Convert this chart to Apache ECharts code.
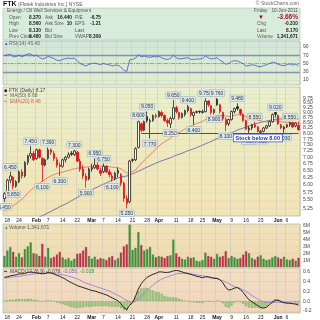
<!DOCTYPE html>
<html><head><meta charset="utf-8">
<script src="https://cdn.jsdelivr.net/npm/echarts@6/dist/echarts.min.js"></script>
<style>html,body{margin:0;padding:0;background:#fff}#c{width:320px;height:320px}</style>
</head><body><div id="c"></div>
<script>
const dates = ['2011-01-14','2011-01-18','2011-01-19','2011-01-20','2011-01-21','2011-01-24','2011-01-25','2011-01-26','2011-01-27','2011-01-28','2011-01-31',
'2011-02-01','2011-02-02','2011-02-03','2011-02-04','2011-02-07','2011-02-08','2011-02-09','2011-02-10','2011-02-11','2011-02-14','2011-02-15','2011-02-16','2011-02-17','2011-02-18','2011-02-22','2011-02-23','2011-02-24','2011-02-25','2011-02-28',
'2011-03-01','2011-03-02','2011-03-03','2011-03-04','2011-03-07','2011-03-08','2011-03-09','2011-03-10','2011-03-11','2011-03-14','2011-03-15','2011-03-16','2011-03-17','2011-03-18','2011-03-21','2011-03-22','2011-03-23','2011-03-24','2011-03-25','2011-03-28','2011-03-29','2011-03-30','2011-03-31',
'2011-04-01','2011-04-04','2011-04-05','2011-04-06','2011-04-07','2011-04-08','2011-04-11','2011-04-12','2011-04-13','2011-04-14','2011-04-15','2011-04-18','2011-04-19','2011-04-20','2011-04-21','2011-04-25','2011-04-26','2011-04-27','2011-04-28','2011-04-29',
'2011-05-02','2011-05-03','2011-05-04','2011-05-05','2011-05-06','2011-05-09','2011-05-10','2011-05-11','2011-05-12','2011-05-13','2011-05-16','2011-05-17','2011-05-18','2011-05-19','2011-05-20','2011-05-23','2011-05-24','2011-05-25','2011-05-26','2011-05-27','2011-05-31',
'2011-06-01','2011-06-02','2011-06-03','2011-06-06','2011-06-07','2011-06-08','2011-06-09','2011-06-10'];
const opens = [5.55,5.75,6.15,6.25,5.95,6.10,6.45,6.30,6.80,7.05,7.15,6.95,7.30,6.95,6.70,6.95,7.30,7.15,6.90,6.70,6.65,6.90,7.00,7.16,7.10,7.20,6.85,6.55,6.30,6.20,
6.55,6.60,6.70,6.50,6.45,6.65,6.45,6.30,6.20,6.40,6.35,6.05,5.55,5.45,6.90,6.90,7.40,8.45,8.15,8.80,8.55,8.60,8.85,8.80,9.00,8.85,8.60,8.45,8.70,9.25,9.00,8.75,8.90,9.10,9.20,8.85,9.04,9.06,9.00,9.05,9.60,9.35,9.00,
9.70,9.40,9.00,8.65,8.45,8.65,9.05,9.30,9.15,8.90,8.60,8.15,8.25,8.40,8.30,8.05,8.10,8.25,8.35,8.55,9.00,8.85,8.40,8.20,8.30,8.40,8.50,8.35,8.37];
const highs = [5.75,6.20,6.45,6.30,6.15,6.50,6.55,6.85,7.10,7.45,7.25,7.35,7.35,7.00,6.95,7.39,7.35,7.25,7.00,6.80,6.95,7.05,7.20,7.25,7.30,7.25,6.95,6.70,6.40,6.60,
6.75,6.95,6.80,6.60,6.75,6.70,6.55,6.40,6.45,6.60,6.40,6.10,5.65,6.90,6.95,7.40,8.60,8.50,8.60,9.05,8.70,8.90,8.95,9.10,9.10,8.90,8.70,8.80,9.65,9.35,9.05,9.00,9.15,9.40,9.25,9.05,9.10,9.10,9.15,9.75,9.65,9.40,9.20,
9.76,9.45,9.05,8.75,8.70,9.10,9.25,9.48,9.20,8.95,8.65,8.35,8.45,8.55,8.35,8.15,8.30,8.40,8.60,8.95,9.02,8.90,8.45,8.35,8.45,8.55,8.55,8.52,8.56];
const lows = [5.45,5.70,6.05,5.85,5.90,6.05,6.20,6.25,6.70,6.95,6.85,6.90,6.95,6.10,6.65,6.90,7.10,6.85,6.60,6.30,6.60,6.80,6.95,7.05,7.05,6.80,6.45,6.20,5.90,6.15,
6.45,6.55,6.50,6.30,6.40,6.40,6.25,6.10,6.15,6.25,5.95,5.45,5.25,5.40,6.80,6.85,7.35,8.05,8.10,8.50,7.77,8.55,8.70,8.75,8.75,8.55,8.30,8.25,8.65,8.95,8.65,8.70,8.80,9.00,8.80,8.40,8.95,8.95,8.95,9.00,9.30,8.90,8.90,
9.35,8.95,8.60,8.10,8.35,8.60,8.95,9.10,8.85,8.55,8.15,7.88,8.15,8.25,8.05,7.90,8.05,8.20,8.30,8.50,8.75,8.40,8.20,8.03,8.25,8.30,8.25,8.28,8.13];
const closes = [5.70,6.15,6.30,5.95,6.10,6.45,6.30,6.80,7.05,7.15,6.90,7.30,7.00,6.70,6.90,7.30,7.20,6.95,6.70,6.65,6.90,7.00,7.10,7.12,7.25,6.85,6.55,6.30,6.15,6.55,
6.60,6.70,6.55,6.40,6.65,6.45,6.35,6.20,6.40,6.50,6.05,5.55,5.40,6.85,6.88,7.35,8.55,8.15,8.55,8.60,8.60,8.85,8.80,9.05,8.85,8.60,8.50,8.70,9.25,9.05,8.75,8.95,9.10,9.30,8.90,9.00,9.02,9.03,9.05,9.60,9.40,9.00,9.15,
9.40,9.05,8.70,8.40,8.65,9.05,9.20,9.20,8.95,8.60,8.20,8.25,8.40,8.30,8.10,8.10,8.25,8.35,8.55,8.90,8.92,8.45,8.25,8.30,8.40,8.50,8.30,8.48,8.17];
const volumes = [1.6,2.4,2.9,2.2,1.5,2.0,1.4,2.6,3.0,3.6,2.0,1.9,1.6,3.4,1.5,2.8,1.3,1.5,1.8,2.2,1.4,1.1,1.3,0.9,1.2,1.9,2.0,2.4,2.9,1.6,
1.2,1.5,1.1,1.3,1.2,1.0,1.4,1.6,1.0,1.3,2.1,3.0,3.3,6.2,2.5,2.8,5.1,3.2,2.4,2.6,2.9,1.8,1.4,1.6,1.5,1.3,1.6,1.7,4.0,2.0,1.5,1.2,1.1,1.5,1.3,1.4,0.9,0.8,1.0,2.1,1.6,1.5,1.2,
1.9,1.5,1.6,2.3,1.3,1.6,1.4,1.2,1.3,1.8,2.3,2.0,1.3,1.1,1.5,1.7,1.2,1.0,1.1,1.4,1.6,1.4,1.2,1.5,1.1,1.0,1.2,0.9,1.34];
const ma50 = [4.62,4.65,4.68,4.71,4.74,4.77,4.80,4.83,4.86,4.89,4.93,4.96,5.00,5.04,5.08,5.12,5.16,5.21,5.25,5.30,5.34,5.38,5.43,5.48,5.53,5.58,5.63,5.68,5.73,5.78,
5.83,5.88,5.92,5.97,6.02,6.06,6.11,6.15,6.19,6.23,6.26,6.28,6.30,6.34,6.38,6.42,6.47,6.52,6.57,6.62,6.67,6.72,6.77,6.82,6.86,6.90,6.94,6.98,7.03,7.08,7.12,7.16,7.21,7.26,7.30,7.34,7.39,7.44,7.49,7.55,7.60,7.65,7.71,
7.77,7.82,7.87,7.92,7.97,8.03,8.09,8.15,8.20,8.25,8.30,8.35,8.40,8.44,8.48,8.52,8.55,8.58,8.61,8.64,8.66,8.67,8.68,8.69,8.69,8.69,8.69,8.68,8.68];
const ema20 = [5.18,5.22,5.28,5.33,5.39,5.46,5.53,5.62,5.72,5.81,5.89,5.98,6.05,6.12,6.18,6.25,6.30,6.35,6.39,6.41,6.44,6.47,6.50,6.53,6.56,6.58,6.60,6.61,6.62,6.63,
6.64,6.65,6.66,6.66,6.66,6.65,6.64,6.62,6.61,6.60,6.56,6.48,6.40,6.43,6.46,6.52,6.65,6.76,6.88,6.99,7.10,7.22,7.33,7.45,7.55,7.63,7.71,7.79,7.90,7.99,8.05,8.12,8.20,8.28,8.34,8.40,8.46,8.51,8.56,8.65,8.72,8.75,8.79,
8.84,8.86,8.85,8.83,8.81,8.83,8.86,8.89,8.89,8.86,8.80,8.76,8.72,8.68,8.63,8.59,8.56,8.54,8.54,8.57,8.59,8.58,8.55,8.53,8.52,8.52,8.50,8.50,8.46];
const rsi = [69,71,73,66,67,70,66,70,73,73,68,70,65,61,63,67,65,62,58,57,60,62,63,62,63,56,50,47,44,48,
50,51,49,47,50,48,47,44,46,46,41,34,31,59,60,63,71,66,68,66,65,67,66,67,64,61,60,62,70,64,61,62,63,64,60,60,61,61,62,68,64,61,62,
64,58,54,48,50,55,57,56,53,49,44,45,47,46,43,42,45,47,50,53,52,48,46,45,47,49,46,48,45.45];
const macd = [0.49,0.50,0.52,0.53,0.54,0.56,0.56,0.57,0.59,0.60,0.59,0.58,0.57,0.56,0.57,0.59,0.58,0.56,0.53,0.51,0.48,0.45,0.41,0.38,0.35,0.32,0.30,0.28,0.26,0.24,
0.22,0.21,0.19,0.17,0.15,0.13,0.10,0.07,0.04,0.01,-0.05,-0.13,-0.17,-0.08,-0.03,0.10,0.25,0.36,0.43,0.49,0.52,0.55,0.57,0.60,0.60,0.59,0.59,0.60,0.62,0.63,0.62,0.60,0.58,0.57,0.55,0.53,0.51,0.50,0.48,0.50,0.50,0.48,0.47,
0.47,0.44,0.38,0.28,0.23,0.24,0.27,0.28,0.24,0.18,0.10,0.03,-0.01,-0.05,-0.09,-0.13,-0.14,-0.12,-0.07,-0.02,0.02,0.02,-0.01,-0.03,-0.04,-0.04,-0.05,-0.06,-0.078];
const signal = [0.48,0.48,0.49,0.50,0.50,0.51,0.52,0.53,0.54,0.55,0.56,0.56,0.57,0.57,0.57,0.57,0.57,0.56,0.56,0.55,0.54,0.53,0.51,0.50,0.48,0.46,0.43,0.40,0.37,0.35,
0.33,0.31,0.29,0.27,0.25,0.23,0.21,0.18,0.15,0.12,0.09,0.05,0.02,-0.01,-0.02,0.00,0.05,0.10,0.16,0.22,0.28,0.33,0.38,0.42,0.45,0.48,0.50,0.52,0.54,0.56,0.57,0.57,0.57,0.56,0.56,0.55,0.54,0.53,0.52,0.51,0.50,0.49,0.48,
0.46,0.44,0.42,0.39,0.36,0.33,0.30,0.28,0.26,0.23,0.20,0.16,0.12,0.08,0.04,0.01,-0.01,-0.02,-0.03,-0.03,-0.02,-0.02,-0.02,-0.02,-0.03,-0.03,-0.04,-0.04,-0.050];
const hist = [0.01,0.02,0.03,0.03,0.04,0.05,0.04,0.04,0.05,0.05,0.03,0.02,0.00,-0.01,0.00,0.02,0.01,0.00,-0.03,-0.04,-0.06,-0.08,-0.10,-0.12,-0.13,-0.14,-0.13,-0.12,-0.11,-0.11,
-0.11,-0.10,-0.10,-0.10,-0.10,-0.10,-0.11,-0.11,-0.11,-0.11,-0.14,-0.18,-0.19,-0.07,-0.01,0.10,0.20,0.26,0.27,0.27,0.24,0.22,0.19,0.18,0.15,0.11,0.09,0.08,0.08,0.07,0.05,0.03,0.01,0.01,-0.01,-0.02,-0.03,-0.03,-0.04,-0.01,0.00,-0.01,-0.01,
0.01,0.00,-0.04,-0.11,-0.13,-0.09,-0.03,0.00,-0.02,-0.05,-0.10,-0.13,-0.13,-0.13,-0.13,-0.14,-0.13,-0.10,-0.04,0.01,0.04,0.04,0.01,-0.01,-0.01,-0.01,-0.01,-0.02,-0.028];
const tickDates = ['2011-01-18','2011-01-24','2011-02-01','2011-02-07','2011-02-14','2011-02-22','2011-03-01','2011-03-07','2011-03-14','2011-03-21','2011-03-28','2011-04-01','2011-04-11','2011-04-18','2011-04-25','2011-05-02','2011-05-09','2011-05-16','2011-05-23','2011-06-01','2011-06-06'];
const tickTexts = ['18','24','Feb','7','14','22','Mar','7','14','21','28','Apr','11','18','25','May','9','16','23','Jun','6'];
const priceTicks = [5.25,5.50,5.75,6.00,6.25,6.50,6.75,7.00,7.25,7.50,7.75,8.00,8.25,8.50,8.75,9.00,9.25,9.50,9.75,10.00];
const rsiTicks = [10,30,50,70,90];
const volTicks = [1,2,3,4,5,6];
const macdTicks = [-0.2,0,0.2,0.4,0.6];
const highLabelIdx = [2,9,15,24,31,34,46,49,58,63,69,73,80,86,93,98];
const lowLabelIdx = [0,3,13,19,28,37,42,50,57,65,72,76,84,88,96];
const alertLevel = 8.0;
const alertStart = '2011-03-24';
const alertText = 'Stock below 8.00';
const alertTextDate = '2011-05-20';
const lastVolumeText = '1,341,671';
const quoteRows = [
  ['Open', '8.370', 'Ask', '16.440', 'P/E', '-6.75'],
  ['High', '8.560', 'Ask Size', '10', 'EPS', '-1.21'],
  ['Low', '8.130', 'Bid', '', 'Last', ''],
  ['Prev Close', '8.480', 'Bid Size', '', 'VWAP', '8.309']
];

const labelMap = {}; tickDates.forEach((d,i)=>labelMap[d]=tickTexts[i]);
const months = ['Feb','Mar','Apr','May','Jun'];
const FONT = 'Liberation Sans, Arial, sans-serif';
const isTick = (idx, val) => labelMap[val] !== undefined;

const candleData = dates.map((d,i)=>{
  const o=opens[i], c=closes[i], prev = i>0?closes[i-1]:o;
  const col = c >= prev ? '#222' : '#e0101a';
  const fill = c < o ? col : '#fffef8';
  return {value:[o,c,lows[i],highs[i]], itemStyle:{color:fill,color0:fill,borderColor:col,borderColor0:col,borderWidth:0.8}};
});
const volData = volumes.map((v,i)=>{
  const up = i===0 ? closes[i]>=opens[i] : closes[i]>=closes[i-1];
  return {value:v, itemStyle:{color: up?'#3c9a3c':'#c8304c', borderColor: up?'#1e6a1e':'#8a1a30', borderWidth:0.3}};
});

const lblStyle = {show:true, fontSize:5, color:'#333', fontFamily:FONT, backgroundColor:'#dbe8ee', borderColor:'#97aebb', borderWidth:0.5, padding:[1,1,0,1], formatter:'{b}', distance:2};
const markPts = [];
highLabelIdx.forEach(i=>markPts.push({name:highs[i].toFixed(3), coord:[dates[i], highs[i]], label:{position:'top'}}));
lowLabelIdx.forEach(i=>markPts.push({name:lows[i].toFixed(3), coord:[dates[i], lows[i]], label:{position:'bottom'}}));
markPts.push({name:alertText, coord:[alertTextDate, alertLevel], label:{position:'bottom', distance:1, fontSize:5.5, fontWeight:'bold', color:'#2030b0', backgroundColor:'#ffffff', borderColor:'#3344dd', borderWidth:0.7, padding:[1,2,0,2]}});

const gridBase = {left:3, right:20, show:true, borderColor:'#a6a6a0', borderWidth:0.6};
const grad = (a,b)=>({type:'linear',x:0,y:0,x2:0,y2:1,colorStops:[{offset:0,color:a},{offset:1,color:b}]});
const grids = [
  Object.assign({top:41, height:44, backgroundColor:grad('#d2e7da','#e1edcb')}, gridBase),
  Object.assign({top:87, height:129, backgroundColor:grad('#e9f0cc','#f3e3b2')}, gridBase),
  Object.assign({top:224, height:43, backgroundColor:grad('#f1e3bb','#eed8b0')}, gridBase),
  Object.assign({top:268, height:45, backgroundColor:grad('#f3dfc4','#efd5ba')}, gridBase)
];
function xAx(g, showLabel){
  return {type:'category', gridIndex:g, data:dates, boundaryGap:true,
    axisLine:{show:false}, axisTick:{show:false},
    axisLabel:{show:showLabel, interval:isTick, fontSize:5, color:'#222', fontFamily:FONT, margin:2,
      formatter:v=>{const t=labelMap[v]; return months.includes(t)?'{m|'+t+'}':t;},
      rich:{m:{fontWeight:'bold', fontSize:5, color:'#111', fontFamily:FONT}}},
    splitLine:{show:true, interval:isTick, lineStyle:{color:'#c9c9bd', width:0.6}}};
}
const yLbl = {fontSize:5, color:'#444', fontFamily:FONT, margin:3, hideOverlap:false};
const option = {
  animation:false,
  backgroundColor:'#ffffff',
  grid: grids,
  xAxis:[xAx(0,false), xAx(1,true), xAx(2,false), xAx(3,true)],
  yAxis:[
    {type:'value', gridIndex:0, position:'right', min:-2, max:104.5, axisLine:{show:false}, axisTick:{show:false, customValues:rsiTicks},
      axisLabel:Object.assign({customValues:rsiTicks}, yLbl), splitLine:{show:true, lineStyle:{color:'#c5d6c8', width:0.5}}},
    {type:'log', logBase:10, gridIndex:1, min:5.03, max:10.39, show:false, splitLine:{show:false}},
    {type:'value', gridIndex:1, position:'right', min:Math.log10(5.03), max:Math.log10(10.39), axisLine:{show:false},
      axisTick:{show:false, customValues:priceTicks.map(Math.log10)},
      axisLabel:Object.assign({customValues:priceTicks.map(Math.log10), formatter:v=>Math.pow(10,v).toFixed(2)}, yLbl),
      splitLine:{show:true, lineStyle:{color:'#dcdcc0', width:0.5}}},
    {type:'value', gridIndex:2, position:'right', min:0, max:6.3, axisLine:{show:false}, axisTick:{show:false, customValues:volTicks},
      axisLabel:Object.assign({customValues:volTicks, formatter:v=>v+'M'}, yLbl), splitLine:{show:true, lineStyle:{color:'#ddd0b0', width:0.5}}},
    {type:'value', gridIndex:3, position:'right', min:-0.24, max:0.68, axisLine:{show:false}, axisTick:{show:false, customValues:macdTicks},
      axisLabel:Object.assign({customValues:macdTicks, formatter:v=>v.toFixed(1)}, yLbl), splitLine:{show:true, lineStyle:{color:'#dfcab0', width:0.5}}}
  ],
  series:[
    {type:'line', xAxisIndex:0, yAxisIndex:0, data:rsi, showSymbol:false, lineStyle:{color:'#4455cc', width:0.8}, z:5,
      markLine:{silent:true, symbol:'none', label:{show:false},
        data:[{yAxis:70, lineStyle:{color:'#8592b6', width:1.3, type:'solid'}},{yAxis:30, lineStyle:{color:'#8592b6', width:1.3, type:'solid'}},
              {yAxis:50, lineStyle:{color:'#7684b4', width:0.7, type:[4,1,1,1]}}]}},
    {type:'line', xAxisIndex:1, yAxisIndex:1, data:ma50, showSymbol:false, lineStyle:{color:'#6d68a8', width:0.9}, z:3},
    {type:'line', xAxisIndex:1, yAxisIndex:1, data:ema20, showSymbol:false, lineStyle:{color:'#f07258', width:0.9}, z:3},
    {type:'candlestick', xAxisIndex:1, yAxisIndex:1, data:candleData, barWidth:2, z:4,
      markLine:{silent:true, symbol:'none', label:{show:false}, lineStyle:{color:'#3344dd', width:1, type:'solid'},
        data:[[{coord:[alertStart, alertLevel]},{coord:[dates[dates.length-1], alertLevel]}]]},
      markPoint:{symbol:'rect', symbolSize:0, silent:true, label:lblStyle, data:markPts}},
    {type:'bar', xAxisIndex:2, yAxisIndex:3, data:volData, barWidth:2},
    {type:'bar', xAxisIndex:3, yAxisIndex:4, data:hist, barWidth:2, itemStyle:{color:'#a6d38a', borderColor:'#5b9a48', borderWidth:0.4}},
    {type:'line', xAxisIndex:3, yAxisIndex:4, data:signal, showSymbol:false, lineStyle:{color:'#9a7fe0', width:0.9}},
    {type:'line', xAxisIndex:3, yAxisIndex:4, data:macd, showSymbol:false, lineStyle:{color:'#111', width:0.9}}
  ],
  graphic: []
};

const G = option.graphic;
function T(x,y,text,st){ G.push({type:'text', x:x, y:y, z:100, silent:true, style:Object.assign({text:text, fontSize:4.8, fill:'#333', fontFamily:FONT, verticalAlign:'middle', align:'left'}, st||{})}); }
const last = dates.length-1;
const chg = closes[last]-closes[last-1];
// header
T(3,4,'FTK',{fontSize:7, fontWeight:'bold', fill:'#111'});
T(18,4.5,'(Flotek Industries Inc.) NYSE',{fontSize:5, fill:'#555'});
T(299,4,'\u00a9 StockCharts.com',{fontSize:5, fill:'#666', align:'right'});
G.push({type:'rect', z:90, silent:true, shape:{x:3, y:8, width:297, height:32}, style:{fill:'#d7ecdb', stroke:'#a9c6b2', lineWidth:0.6}});
T(7,11,'Energy / Oil Well Services & Equipment',{fontSize:4.8, fill:'#555'});
quoteRows.forEach((r,k)=>{
  const y = 17.5 + k*6.5;
  T(9,y,r[0],{fill:'#555'}); T(41,y,r[1],{align:'right', fontWeight:'bold', fill:'#222'});
  T(45,y,r[2],{fill:'#555'}); T(72,y,r[3],{align:'right', fontWeight:'bold', fill:'#222'});
  T(75,y,r[4],{fill:'#555'}); T(101,y,r[5],{align:'right', fontWeight:'bold', fill:'#222'});
});
T(298,11,'Friday   10-Jun-2011',{align:'right', fill:'#555'});
T(258,17.5,'\u25bc',{fill:'#a01020', fontSize:6});
T(298,17.5,(chg/closes[last-1]*100).toFixed(2)+'%',{align:'right', fill:'#b01030', fontWeight:'bold', fontSize:6.5});
T(257,24,'Chg',{fill:'#555'}); T(298,24,chg.toFixed(3),{align:'right', fontWeight:'bold', fill:'#222'});
T(257,30.5,'Last',{fill:'#555'}); T(298,30.5,closes[last].toFixed(3),{align:'right', fontWeight:'bold', fill:'#222'});
T(257,37,'Volume',{fill:'#555'}); T(298,37,lastVolumeText,{align:'right', fontWeight:'bold', fill:'#222'});
// panel legends
T(4,43.5,'\u25b2',{fill:'#4455cc', fontSize:4.5});
T(9,43.5,'RSI(14) '+rsi[last].toFixed(2),{fill:'#667', fontSize:5});
T(4,90.5,'\u25a0',{fill:'#111', fontSize:5});
T(9,90.5,'FTK (Daily) '+closes[last].toFixed(2),{fill:'#444', fontSize:5});
T(4,96,'\u2501',{fill:'#6d68a8', fontSize:5});
T(10,96,'MA(50) '+ma50[last].toFixed(2),{fill:'#666', fontSize:5});
T(4,101.5,'\u2501',{fill:'#f07258', fontSize:5});
T(10,101.5,'EMA(20) '+ema20[last].toFixed(2),{fill:'#e05a40', fontSize:5});
T(4,227.5,'\u25b2',{fill:'#3c9a3c', fontSize:4.5});
T(9,227.5,'Volume '+lastVolumeText,{fill:'#555', fontSize:5});
T(4,271.5,'\u2501',{fill:'#111', fontSize:5});
G.push({type:'text', x:10, y:271.5, z:100, silent:true, style:{text:'{a|MACD(12,26,9) '+macd[last].toFixed(3)+',} {b|'+signal[last].toFixed(3)+',} {c|'+hist[last].toFixed(3)+'}', fontSize:5, fontFamily:FONT, verticalAlign:'middle',
  rich:{a:{fill:'#444', fontSize:5, fontFamily:FONT}, b:{fill:'#7a5fd0', fontSize:5, fontFamily:FONT}, c:{fill:'#3a9a3a', fontSize:5, fontFamily:FONT}}}});

const chart = echarts.init(document.getElementById('c'), null, {renderer:'canvas'});
chart.setOption(option);
</script></body></html>
